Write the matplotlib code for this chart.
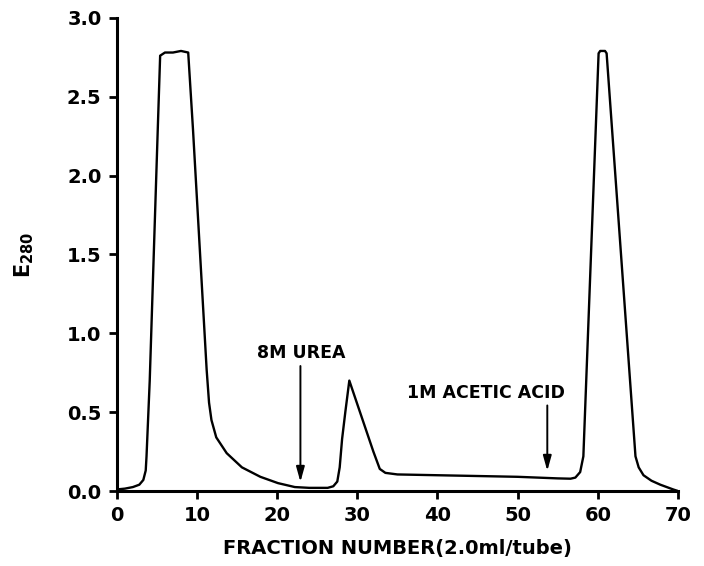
import matplotlib
matplotlib.use("Agg")
import matplotlib.pyplot as plt

plt.rcParams['font.family'] = ['DejaVu Sans']
plt.rcParams['font.weight'] = 'bold'
plt.rcParams['mathtext.default'] = 'bf'

fraction = [0, 1, 2, 2.8, 3.3, 3.6, 3.7, 4.1, 5.1, 5.4, 6, 7, 8, 8.9, 9.5,
            11.2, 11.5, 11.8, 12.4, 13.7, 15.6, 17.9, 20.1, 22.2, 24, 26.3, 27.0, 27.5, 27.8, 28.1, 28.5,
            29, 30, 31, 32, 32.8, 33.5, 35, 40, 45, 50, 55, 56.6, 57.2, 57.8, 58.2,
            60.1, 60.3, 60.9, 61.1, 64.7, 65.1, 65.7, 66.7, 67.8, 69.4, 70]
absorbance = [0.01, 0.015, 0.025, 0.04, 0.07, 0.13, 0.22, 0.70, 2.29, 2.76, 2.78, 2.78, 2.79, 2.78, 2.29,
              0.77, 0.56, 0.45, 0.34, 0.24, 0.15, 0.09, 0.05, 0.025, 0.02, 0.02, 0.03, 0.06, 0.15, 0.33, 0.50,
              0.70, 0.55, 0.40, 0.25, 0.14, 0.115, 0.105, 0.10, 0.095, 0.09, 0.08, 0.078, 0.085, 0.12, 0.22,
              2.775, 2.79, 2.79, 2.775, 0.22, 0.15, 0.10, 0.065, 0.04, 0.01, 0.0]

annotations = ["8M UREA", "1M ACETIC ACID"]
arrow_x = [22.9, 53.7]
arrow_top = [0.81, 0.56]
arrow_tip = [0.04, 0.11]
label_x = [23.0, 46.0]
label_y = [0.843, 0.59]

fig = plt.figure(figsize=(7.04, 5.66), dpi=100)
ax = fig.add_axes([0.166, 0.1325, 0.797, 0.836])
ax.plot(fraction, absorbance, color='black', lw=1.7, solid_joinstyle='round')

for t, axx, top, tip, lx, ly in zip(annotations, arrow_x, arrow_top, arrow_tip, label_x, label_y):
    ax.annotate('', xy=(axx, tip), xytext=(axx, top),
                arrowprops=dict(arrowstyle='-|>,head_width=0.25,head_length=0.9',
                                color='black', lw=1.4))
    ax.text(lx, ly, t, ha='center', va='baseline', fontsize=12.5, fontweight='bold')

ax.set_xlim(0, 70)
ax.set_ylim(0, 3.0)
ax.set_xticks(range(0, 71, 10))
ax.set_yticks([0, 0.5, 1.0, 1.5, 2.0, 2.5, 3.0])
ax.set_yticklabels(['0.0', '0.5', '1.0', '1.5', '2.0', '2.5', '3.0'])
ax.spines['top'].set_visible(False)
ax.spines['right'].set_visible(False)
for s in ['left', 'bottom']:
    ax.spines[s].set_linewidth(2.2)
ax.tick_params(direction='out', length=6, width=2, labelsize=14, pad=5)
for lab in ax.get_xticklabels() + ax.get_yticklabels():
    lab.set_fontweight('bold')
ax.set_xlabel('FRACTION NUMBER(2.0ml/tube)', fontsize=14, fontweight='bold', labelpad=10)
ax.set_ylabel('E$_{280}$', fontsize=15, fontweight='bold', labelpad=22)

fig.savefig('out.png', dpi=100)
